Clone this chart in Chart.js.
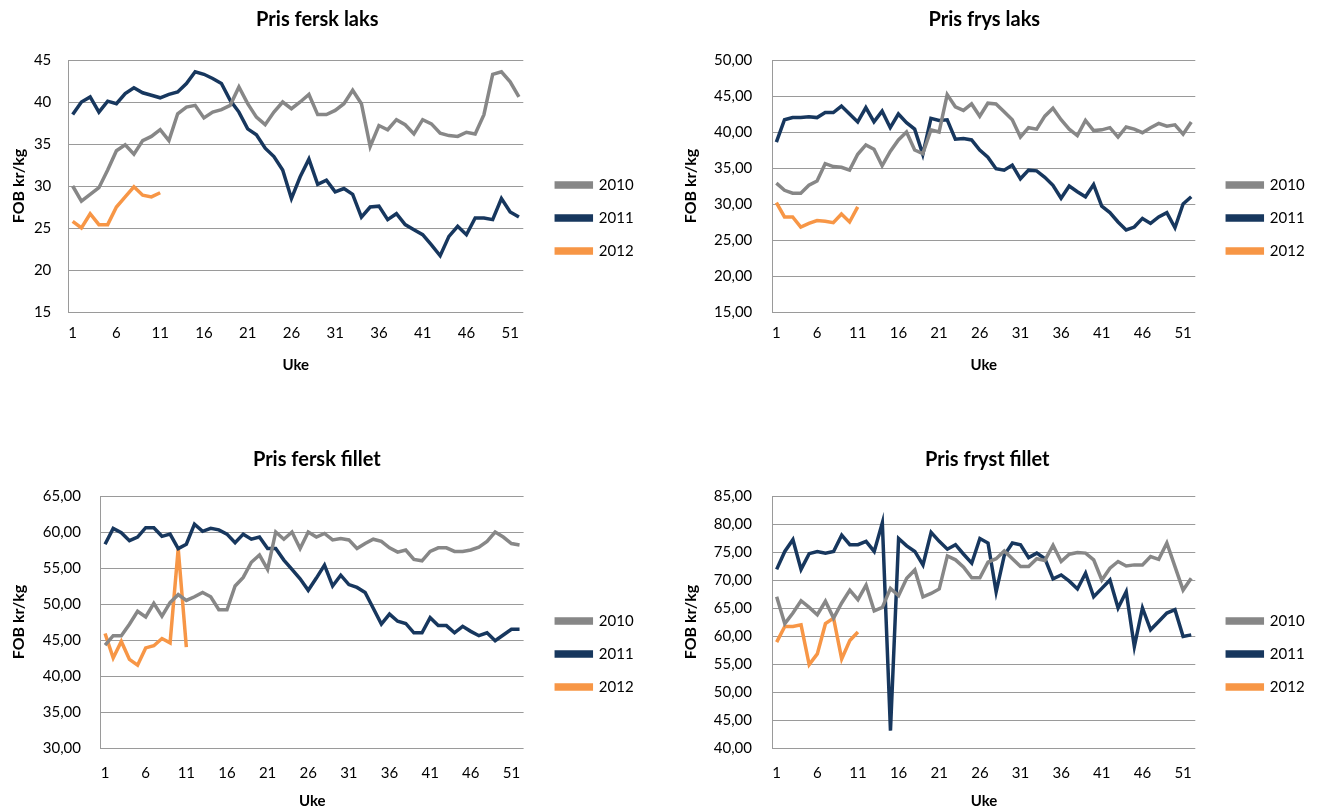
<!DOCTYPE html>
<html>
<head>
<meta charset="utf-8">
<script src="https://cdn.jsdelivr.net/npm/chart.js@4.4.1/dist/chart.umd.min.js"></script>
<style>
html, body { margin: 0; padding: 0; background: #fff; overflow: hidden; width: 1317px; height: 810px; }
canvas { position: absolute; }
</style>
</head>
<body>
<canvas id="c1"></canvas>
<canvas id="c2"></canvas>
<canvas id="c3"></canvas>
<canvas id="c4"></canvas>
<script>
var weeks = ['1', '2', '3', '4', '5', '6', '7', '8', '9', '10', '11', '12', '13',
  '14', '15', '16', '17', '18', '19', '20', '21', '22', '23', '24', '25', '26',
  '27', '28', '29', '30', '31', '32', '33', '34', '35', '36', '37', '38', '39',
  '40', '41', '42', '43', '44', '45', '46', '47', '48', '49', '50', '51', '52'];
var years = ['2010', '2011', '2012'];

// Pris fersk laks
var ferskLaks2010 = [30.0, 28.2, 29.0, 29.8, 31.9, 34.2, 34.9, 33.8, 35.4, 35.9, 36.7, 35.4, 38.6,
  39.4, 39.6, 38.1, 38.8, 39.1, 39.6, 41.8, 39.8, 38.2, 37.3, 38.8, 40.0, 39.2,
  40.0, 40.9, 38.5, 38.5, 39.0, 39.8, 41.4, 39.8, 34.7, 37.2, 36.7, 37.9, 37.3,
  36.2, 37.9, 37.4, 36.3, 36.0, 35.9, 36.4, 36.2, 38.5, 43.3, 43.6, 42.4, 40.6];
var ferskLaks2011 = [38.5, 40.0, 40.6, 38.8, 40.1, 39.8, 41.0, 41.7, 41.1, 40.8, 40.5, 40.9, 41.2,
  42.2, 43.6, 43.3, 42.8, 42.2, 40.2, 38.8, 36.8, 36.1, 34.5, 33.5, 31.9, 28.5,
  31.1, 33.2, 30.2, 30.7, 29.3, 29.7, 29.0, 26.3, 27.5, 27.6, 26.0, 26.7, 25.4,
  24.8, 24.2, 23.0, 21.7, 24.0, 25.2, 24.2, 26.2, 26.2, 26.0, 28.5, 26.9, 26.3];
var ferskLaks2012 = [25.8, 25.0, 26.7, 25.4, 25.4, 27.5, 28.7, 29.9, 28.9, 28.7, 29.2];

// Pris frys laks
var frysLaks2010 = [32.9, 31.9, 31.5, 31.5, 32.6, 33.2, 35.6, 35.2, 35.1, 34.7, 36.9, 38.2, 37.6,
  35.3, 37.3, 38.9, 40.0, 37.5, 37.0, 40.3, 40.0, 45.2, 43.5, 43.0, 43.9, 42.2,
  44.0, 43.9, 42.8, 41.7, 39.3, 40.6, 40.4, 42.2, 43.3, 41.7, 40.4, 39.5, 41.6,
  40.2, 40.3, 40.6, 39.3, 40.7, 40.4, 39.9, 40.6, 41.2, 40.8, 41.0, 39.7, 41.4];
var frysLaks2011 = [38.6, 41.7, 42.0, 42.0, 42.1, 42.0, 42.7, 42.7, 43.6, 42.5, 41.4, 43.4, 41.4,
  42.9, 40.6, 42.5, 41.3, 40.4, 36.9, 41.9, 41.6, 41.7, 39.0, 39.1, 38.9, 37.5,
  36.5, 34.9, 34.7, 35.4, 33.5, 34.7, 34.6, 33.7, 32.6, 30.8, 32.5, 31.7, 31.0,
  32.7, 29.7, 28.8, 27.5, 26.4, 26.8, 28.0, 27.3, 28.2, 28.8, 26.7, 30.0, 31.0];
var frysLaks2012 = [30.2, 28.2, 28.2, 26.8, 27.3, 27.7, 27.6, 27.4, 28.6, 27.5, 29.6];

// Pris fersk fillet
var ferskFillet2010 = [44.3, 45.6, 45.6, 47.2, 49.0, 48.2, 50.1, 48.3, 50.2, 51.3, 50.5, 51.0, 51.6,
  51.0, 49.2, 49.2, 52.5, 53.7, 55.8, 56.8, 54.8, 60.0, 59.0, 60.0, 57.7, 60.0,
  59.3, 59.8, 58.9, 59.1, 58.9, 57.7, 58.4, 59.0, 58.7, 57.8, 57.2, 57.5, 56.2,
  56.0, 57.3, 57.8, 57.8, 57.3, 57.3, 57.5, 57.9, 58.7, 60.0, 59.3, 58.4, 58.2];
var ferskFillet2011 = [58.3, 60.5, 59.9, 58.8, 59.3, 60.6, 60.6, 59.4, 59.7, 57.7, 58.3, 61.1, 60.1,
  60.5, 60.3, 59.7, 58.5, 59.7, 59.0, 59.3, 57.7, 57.7, 56.1, 54.8, 53.5, 51.9,
  53.6, 55.4, 52.5, 54.0, 52.7, 52.3, 51.6, 49.4, 47.2, 48.6, 47.6, 47.3, 46.0,
  46.0, 48.1, 47.0, 47.0, 46.0, 46.9, 46.2, 45.6, 46.0, 44.9, 45.7, 46.5, 46.5];
var ferskFillet2012 = [45.9, 42.5, 44.8, 42.3, 41.5, 43.9, 44.2, 45.2, 44.6, 57.7, 44.0];

// Pris fryst fillet
var frystFillet2010 = [67.0, 62.2, 64.1, 66.3, 65.1, 63.8, 66.2, 63.2, 65.9, 68.2, 66.5, 69.1, 64.5,
  65.1, 68.5, 67.2, 70.3, 71.8, 67.0, 67.6, 68.4, 74.3, 73.6, 72.3, 70.4, 70.4,
  73.2, 73.8, 75.2, 73.8, 72.4, 72.4, 73.8, 73.5, 76.2, 73.3, 74.6, 74.9, 74.8,
  73.6, 70.0, 72.1, 73.3, 72.5, 72.7, 72.7, 74.2, 73.7, 76.6, 72.4, 68.2, 70.3];
var frystFillet2011 = [71.9, 75.1, 77.2, 71.9, 74.7, 75.1, 74.8, 75.1, 78.0, 76.3, 76.3, 76.9, 75.1,
  80.2, 43.1, 77.4, 76.1, 75.1, 72.7, 78.5, 76.9, 75.5, 76.3, 74.6, 73.0, 77.4,
  76.6, 67.9, 74.4, 76.6, 76.3, 74.0, 74.8, 73.8, 70.2, 70.9, 69.8, 68.4, 71.2,
  67.0, 68.5, 70.0, 65.0, 67.9, 58.1, 65.0, 61.1, 62.6, 64.1, 64.7, 59.9, 60.2];
var frystFillet2012 = [58.9, 61.7, 61.7, 62.0, 54.9, 56.8, 62.2, 63.2, 55.9, 59.2, 60.7];

var colors = ['#878787', '#17375e', '#f79646'];
var gridColor = '#9a9a9a';
var legendPad = 18;
var legendBox = 35;

Chart.defaults.font.family = 'Lato';
Chart.defaults.color = '#000';

// width Chart.js gives a right-hand legend: padding + box + half font + text + 10
var probe = document.createElement('canvas').getContext('2d');
probe.font = '15px Lato';
var legendText = Math.max.apply(null, years.map(function (t) { return probe.measureText(t).width; }));
var legendW = legendPad + legendBox + 7.5 + legendText + 10;

function makeChart(id, title, series, yMin, yMax, decimals, pos) {
  // place the canvas so plot, title, axis title and legend land where the original has them
  var right = pos.legendX - legendPad + legendW;
  var left = 2 * pos.titleX - right;
  var canvas = document.getElementById(id);
  var w = Math.ceil(right - left) + 10;
  canvas.width = w;
  canvas.height = pos.height;
  canvas.style.left = left + 'px';
  canvas.style.top = pos.top + 'px';

  return new Chart(canvas.getContext('2d'), {
    type: 'line',
    data: {
      labels: weeks,
      datasets: series.map(function (d, i) {
        return {
          label: years[i],
          data: d,
          yAxisID: 'y',
          borderColor: colors[i],
          backgroundColor: colors[i],
          borderWidth: 3.5,
          pointRadius: 0,
          pointHoverRadius: 0,
          tension: 0,
          fill: false
        };
      })
    },
    options: {
      responsive: false,
      animation: false,
      events: [],
      layout: { padding: { left: 0, right: w - (right - left), top: 0, bottom: 0 } },
      plugins: {
        title: {
          display: true,
          text: title,
          color: '#000',
          font: { size: 20, weight: 'bold' },
          padding: { top: 8, bottom: pos.plotTop - pos.top - 32 }
        },
        legend: {
          position: 'right',
          labels: {
            boxWidth: legendBox,
            boxHeight: 4,
            padding: legendPad,
            textAlign: 'left',
            color: '#000',
            font: { size: 15 }
          },
          // blank title only pushes the legend entries down
          title: { display: true, text: ' ', font: { size: 10 }, padding: { top: pos.legendTop, bottom: 0 } }
        },
        tooltip: { enabled: false }
      },
      scales: {
        x: {
          offset: true,
          grid: { display: false, drawTicks: false },
          border: { display: false },
          ticks: {
            autoSkip: false,
            maxRotation: 0,
            padding: pos.xPad,
            font: { size: 15 },
            callback: function (v, i) { return i % 5 === 0 ? weeks[i] : ''; }
          },
          title: {
            display: true,
            text: 'Uke',
            font: { size: 15, weight: 'bold' },
            padding: { top: 0, bottom: 0 }
          },
          afterFit: function (s) { s.height = pos.top + pos.height - pos.plotBottom; }
        },
        y: {
          min: yMin,
          max: yMax,
          grid: { color: gridColor, drawTicks: false },
          border: { display: true, color: gridColor },
          ticks: {
            stepSize: 5,
            padding: pos.yPad,
            font: { size: 15 },
            callback: function (v) { return decimals ? v.toFixed(2).replace('.', ',') : String(v); }
          },
          title: {
            display: true,
            text: 'FOB kr/kg',
            font: { size: 16, weight: 'bold' },
            padding: { top: pos.yTitleX - left - 9.6, bottom: 0 }
          },
          afterFit: function (s) { s.width = pos.plotLeft - left; }
        },
        // empty axis that keeps the legend away from the plot
        gap: {
          type: 'linear',
          position: 'right',
          grid: { display: false },
          border: { display: false },
          ticks: { display: false },
          afterFit: function (s) { s.width = pos.legendX - legendPad - pos.plotRight; }
        }
      }
    }
  });
}

makeChart('c1', 'Pris fersk laks', [ferskLaks2010, ferskLaks2011, ferskLaks2012], 15, 45, false,
  { top: 0, height: 374, plotTop: 60, plotBottom: 312, plotLeft: 68, plotRight: 523,
    titleX: 317, yTitleX: 18.5, legendX: 556, legendTop: 50, xPad: 12, yPad: 17 });
makeChart('c2', 'Pris frys laks', [frysLaks2010, frysLaks2011, frysLaks2012], 15, 50, true,
  { top: 0, height: 374, plotTop: 60, plotBottom: 312, plotLeft: 772, plotRight: 1195,
    titleX: 984, yTitleX: 690.5, legendX: 1227, legendTop: 50, xPad: 12, yPad: 20 });
makeChart('c3', 'Pris fersk fillet', [ferskFillet2010, ferskFillet2011, ferskFillet2012], 30, 65, true,
  { top: 440, height: 370, plotTop: 496, plotBottom: 748, plotLeft: 100.7, plotRight: 523.3,
    titleX: 316.5, yTitleX: 18.5, legendX: 556, legendTop: 46, xPad: 16, yPad: 20 });
makeChart('c4', 'Pris fryst fillet', [frystFillet2010, frystFillet2011, frystFillet2012], 40, 85, true,
  { top: 440, height: 370, plotTop: 496, plotBottom: 748, plotLeft: 772.3, plotRight: 1195,
    titleX: 987, yTitleX: 690.5, legendX: 1227, legendTop: 46, xPad: 16, yPad: 20.6 });
</script>
</body>
</html>
